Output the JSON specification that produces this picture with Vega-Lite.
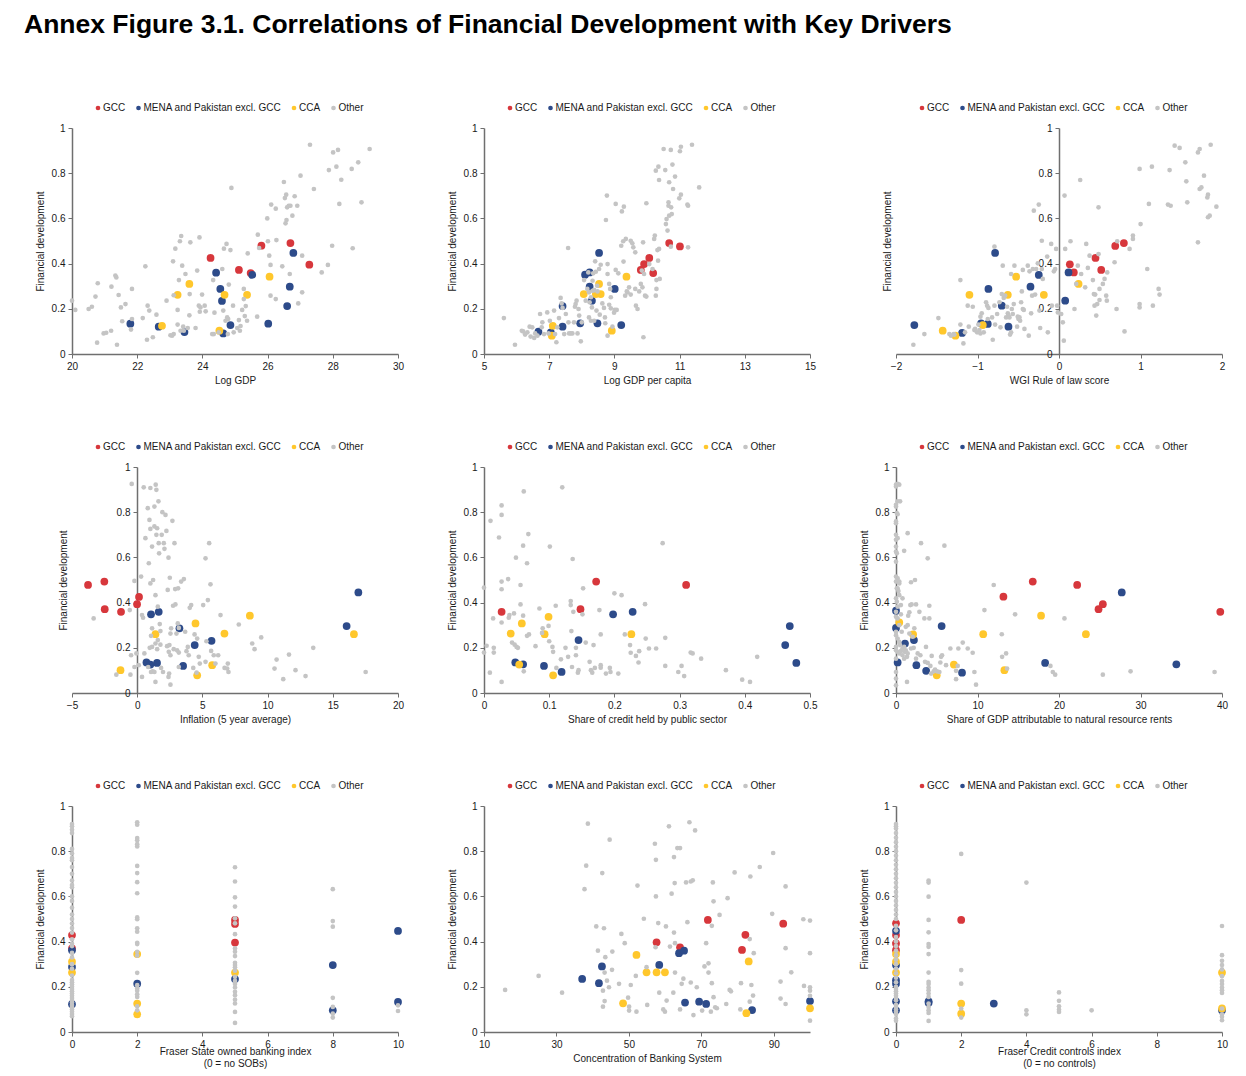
{
"$schema": "https://vega.github.io/schema/vega-lite/v6.json",
"background": "white",
"padding": {"left": 24, "top": 12, "right": 6, "bottom": 4},
"title": {"text": "Annex Figure 3.1. Correlations of Financial Development with Key Drivers", "anchor": "start", "frame": "group", "dx": -48, "font": "Liberation Sans", "fontSize": 26.5, "fontWeight": "bold", "color": "#000000", "offset": 64.5},
"datasets": {
"p1": [
{"x":24.25,"y":0.425,"g":"GCC"},{"x":25.12,"y":0.372,"g":"GCC"},{"x":25.48,"y":0.358,"g":"GCC"},{"x":25.81,"y":0.479,"g":"GCC"},{"x":26.7,"y":0.491,"g":"GCC"},{"x":27.28,"y":0.395,"g":"GCC"},
{"x":21.79,"y":0.134,"g":"MENA and Pakistan excl. GCC"},{"x":22.66,"y":0.121,"g":"MENA and Pakistan excl. GCC"},{"x":23.45,"y":0.097,"g":"MENA and Pakistan excl. GCC"},{"x":24.42,"y":0.36,"g":"MENA and Pakistan excl. GCC"},{"x":24.55,"y":0.288,"g":"MENA and Pakistan excl. GCC"},{"x":24.6,"y":0.235,"g":"MENA and Pakistan excl. GCC"},{"x":24.64,"y":0.091,"g":"MENA and Pakistan excl. GCC"},{"x":24.86,"y":0.128,"g":"MENA and Pakistan excl. GCC"},{"x":25.53,"y":0.35,"g":"MENA and Pakistan excl. GCC"},{"x":26.02,"y":0.134,"g":"MENA and Pakistan excl. GCC"},{"x":26.6,"y":0.212,"g":"MENA and Pakistan excl. GCC"},{"x":26.68,"y":0.298,"g":"MENA and Pakistan excl. GCC"},{"x":26.79,"y":0.447,"g":"MENA and Pakistan excl. GCC"},
{"x":22.76,"y":0.125,"g":"CCA"},{"x":23.24,"y":0.262,"g":"CCA"},{"x":23.6,"y":0.31,"g":"CCA"},{"x":24.52,"y":0.103,"g":"CCA"},{"x":24.68,"y":0.262,"g":"CCA"},{"x":25.37,"y":0.262,"g":"CCA"},{"x":26.06,"y":0.342,"g":"CCA"},
{"x":20.0,"y":0.236,"g":"Other"},{"x":20.1,"y":0.195,"g":"Other"},{"x":20.51,"y":0.199,"g":"Other"},{"x":20.61,"y":0.209,"g":"Other"},{"x":20.72,"y":0.254,"g":"Other"},{"x":20.79,"y":0.313,"g":"Other"},{"x":20.77,"y":0.05,"g":"Other"},{"x":20.97,"y":0.091,"g":"Other"},{"x":21.05,"y":0.094,"g":"Other"},{"x":21.2,"y":0.103,"g":"Other"},{"x":21.21,"y":0.298,"g":"Other"},{"x":21.33,"y":0.347,"g":"Other"},{"x":21.36,"y":0.339,"g":"Other"},{"x":21.43,"y":0.261,"g":"Other"},{"x":21.5,"y":0.206,"g":"Other"},{"x":21.54,"y":0.145,"g":"Other"},{"x":21.84,"y":0.288,"g":"Other"},{"x":21.84,"y":0.155,"g":"Other"},{"x":21.81,"y":0.108,"g":"Other"},{"x":21.64,"y":0.221,"g":"Other"},{"x":21.38,"y":0.041,"g":"Other"},{"x":22.17,"y":0.159,"g":"Other"},{"x":22.25,"y":0.388,"g":"Other"},{"x":22.3,"y":0.063,"g":"Other"},{"x":22.32,"y":0.214,"g":"Other"},{"x":22.37,"y":0.192,"g":"Other"},{"x":22.48,"y":0.074,"g":"Other"},{"x":22.59,"y":0.174,"g":"Other"},{"x":22.9,"y":0.236,"g":"Other"},{"x":23.02,"y":0.083,"g":"Other"},{"x":23.1,"y":0.41,"g":"Other"},{"x":23.12,"y":0.26,"g":"Other"},{"x":23.17,"y":0.466,"g":"Other"},{"x":23.24,"y":0.195,"g":"Other"},{"x":23.24,"y":0.13,"g":"Other"},{"x":23.28,"y":0.327,"g":"Other"},{"x":23.31,"y":0.499,"g":"Other"},{"x":23.35,"y":0.522,"g":"Other"},{"x":23.38,"y":0.391,"g":"Other"},{"x":23.41,"y":0.121,"g":"Other"},{"x":23.48,"y":0.354,"g":"Other"},{"x":23.55,"y":0.115,"g":"Other"},{"x":23.6,"y":0.171,"g":"Other"},{"x":23.61,"y":0.265,"g":"Other"},{"x":23.63,"y":0.494,"g":"Other"},{"x":23.79,"y":0.115,"g":"Other"},{"x":23.84,"y":0.369,"g":"Other"},{"x":23.89,"y":0.214,"g":"Other"},{"x":23.94,"y":0.206,"g":"Other"},{"x":23.92,"y":0.187,"g":"Other"},{"x":23.91,"y":0.516,"g":"Other"},{"x":23.99,"y":0.263,"g":"Other"},{"x":24.07,"y":0.214,"g":"Other"},{"x":24.1,"y":0.189,"g":"Other"},{"x":24.3,"y":0.088,"g":"Other"},{"x":24.33,"y":0.327,"g":"Other"},{"x":24.37,"y":0.183,"g":"Other"},{"x":24.61,"y":0.376,"g":"Other"},{"x":24.64,"y":0.192,"g":"Other"},{"x":24.66,"y":0.466,"g":"Other"},{"x":24.71,"y":0.147,"g":"Other"},{"x":24.74,"y":0.487,"g":"Other"},{"x":24.81,"y":0.307,"g":"Other"},{"x":24.79,"y":0.155,"g":"Other"},{"x":24.86,"y":0.46,"g":"Other"},{"x":24.89,"y":0.735,"g":"Other"},{"x":24.94,"y":0.214,"g":"Other"},{"x":24.96,"y":0.096,"g":"Other"},{"x":25.07,"y":0.115,"g":"Other"},{"x":25.17,"y":0.124,"g":"Other"},{"x":25.22,"y":0.195,"g":"Other"},{"x":25.27,"y":0.288,"g":"Other"},{"x":25.27,"y":0.243,"g":"Other"},{"x":25.3,"y":0.168,"g":"Other"},{"x":25.33,"y":0.212,"g":"Other"},{"x":25.39,"y":0.445,"g":"Other"},{"x":25.68,"y":0.165,"g":"Other"},{"x":25.7,"y":0.528,"g":"Other"},{"x":25.74,"y":0.469,"g":"Other"},{"x":25.99,"y":0.6,"g":"Other"},{"x":26.01,"y":0.499,"g":"Other"},{"x":26.05,"y":0.435,"g":"Other"},{"x":26.09,"y":0.258,"g":"Other"},{"x":26.09,"y":0.394,"g":"Other"},{"x":26.11,"y":0.661,"g":"Other"},{"x":26.25,"y":0.243,"g":"Other"},{"x":26.25,"y":0.643,"g":"Other"},{"x":26.27,"y":0.504,"g":"Other"},{"x":26.45,"y":0.388,"g":"Other"},{"x":26.5,"y":0.761,"g":"Other"},{"x":26.53,"y":0.69,"g":"Other"},{"x":26.57,"y":0.705,"g":"Other"},{"x":26.55,"y":0.578,"g":"Other"},{"x":26.58,"y":0.593,"g":"Other"},{"x":26.6,"y":0.649,"g":"Other"},{"x":26.65,"y":0.656,"g":"Other"},{"x":26.68,"y":0.354,"g":"Other"},{"x":26.7,"y":0.656,"g":"Other"},{"x":26.76,"y":0.612,"g":"Other"},{"x":26.83,"y":0.698,"g":"Other"},{"x":26.91,"y":0.656,"g":"Other"},{"x":26.94,"y":0.224,"g":"Other"},{"x":27.01,"y":0.789,"g":"Other"},{"x":27.06,"y":0.273,"g":"Other"},{"x":27.06,"y":0.435,"g":"Other"},{"x":27.42,"y":0.73,"g":"Other"},{"x":27.66,"y":0.361,"g":"Other"},{"x":27.85,"y":0.394,"g":"Other"},{"x":27.88,"y":0.814,"g":"Other"},{"x":27.98,"y":0.479,"g":"Other"},{"x":28.01,"y":0.892,"g":"Other"},{"x":28.11,"y":0.829,"g":"Other"},{"x":28.16,"y":0.903,"g":"Other"},{"x":28.2,"y":0.664,"g":"Other"},{"x":28.26,"y":0.771,"g":"Other"},{"x":28.58,"y":0.819,"g":"Other"},{"x":28.61,"y":0.468,"g":"Other"},{"x":28.78,"y":0.848,"g":"Other"},{"x":28.88,"y":0.671,"g":"Other"},{"x":29.13,"y":0.907,"g":"Other"},{"x":27.3,"y":0.926,"g":"Other"},{"x":24.76,"y":0.162,"g":"Other"},{"x":24.5,"y":0.096,"g":"Other"},{"x":24.35,"y":0.088,"g":"Other"},{"x":24.78,"y":0.088,"g":"Other"},{"x":23.43,"y":0.103,"g":"Other"},{"x":23.12,"y":0.088,"g":"Other"},{"x":23.07,"y":0.081,"g":"Other"},{"x":23.33,"y":0.103,"g":"Other"},{"x":25.12,"y":0.15,"g":"Other"},{"x":25.15,"y":0.103,"g":"Other"},{"x":25.37,"y":0.147,"g":"Other"}
],
"p2": [
{"x":9.81,"y":0.372,"g":"GCC"},{"x":9.91,"y":0.398,"g":"GCC"},{"x":10.07,"y":0.425,"g":"GCC"},{"x":10.19,"y":0.358,"g":"GCC"},{"x":10.68,"y":0.491,"g":"GCC"},{"x":11.01,"y":0.476,"g":"GCC"},
{"x":6.67,"y":0.099,"g":"MENA and Pakistan excl. GCC"},{"x":7.05,"y":0.096,"g":"MENA and Pakistan excl. GCC"},{"x":7.41,"y":0.212,"g":"MENA and Pakistan excl. GCC"},{"x":7.41,"y":0.121,"g":"MENA and Pakistan excl. GCC"},{"x":7.95,"y":0.136,"g":"MENA and Pakistan excl. GCC"},{"x":8.1,"y":0.351,"g":"MENA and Pakistan excl. GCC"},{"x":8.24,"y":0.361,"g":"MENA and Pakistan excl. GCC"},{"x":8.24,"y":0.298,"g":"MENA and Pakistan excl. GCC"},{"x":8.31,"y":0.236,"g":"MENA and Pakistan excl. GCC"},{"x":8.48,"y":0.136,"g":"MENA and Pakistan excl. GCC"},{"x":8.53,"y":0.447,"g":"MENA and Pakistan excl. GCC"},{"x":9.01,"y":0.288,"g":"MENA and Pakistan excl. GCC"},{"x":9.21,"y":0.128,"g":"MENA and Pakistan excl. GCC"},
{"x":7.11,"y":0.125,"g":"CCA"},{"x":7.08,"y":0.081,"g":"CCA"},{"x":8.06,"y":0.265,"g":"CCA"},{"x":8.43,"y":0.265,"g":"CCA"},{"x":8.53,"y":0.31,"g":"CCA"},{"x":8.58,"y":0.265,"g":"CCA"},{"x":8.92,"y":0.103,"g":"CCA"},{"x":9.37,"y":0.342,"g":"CCA"},
{"x":5.61,"y":0.159,"g":"Other"},{"x":5.95,"y":0.041,"g":"Other"},{"x":6.16,"y":0.103,"g":"Other"},{"x":6.2,"y":0.1,"g":"Other"},{"x":6.26,"y":0.086,"g":"Other"},{"x":6.33,"y":0.096,"g":"Other"},{"x":6.4,"y":0.121,"g":"Other"},{"x":6.48,"y":0.118,"g":"Other"},{"x":6.54,"y":0.071,"g":"Other"},{"x":6.43,"y":0.077,"g":"Other"},{"x":6.57,"y":0.091,"g":"Other"},{"x":6.64,"y":0.081,"g":"Other"},{"x":6.72,"y":0.177,"g":"Other"},{"x":6.77,"y":0.118,"g":"Other"},{"x":6.79,"y":0.14,"g":"Other"},{"x":6.84,"y":0.088,"g":"Other"},{"x":6.94,"y":0.184,"g":"Other"},{"x":6.98,"y":0.091,"g":"Other"},{"x":7.02,"y":0.147,"g":"Other"},{"x":7.15,"y":0.192,"g":"Other"},{"x":7.18,"y":0.088,"g":"Other"},{"x":7.22,"y":0.052,"g":"Other"},{"x":7.25,"y":0.118,"g":"Other"},{"x":7.3,"y":0.159,"g":"Other"},{"x":7.35,"y":0.248,"g":"Other"},{"x":7.38,"y":0.224,"g":"Other"},{"x":7.41,"y":0.204,"g":"Other"},{"x":7.46,"y":0.088,"g":"Other"},{"x":7.51,"y":0.177,"g":"Other"},{"x":7.58,"y":0.469,"g":"Other"},{"x":7.59,"y":0.14,"g":"Other"},{"x":7.61,"y":0.091,"g":"Other"},{"x":7.66,"y":0.091,"g":"Other"},{"x":7.71,"y":0.091,"g":"Other"},{"x":7.76,"y":0.14,"g":"Other"},{"x":7.79,"y":0.209,"g":"Other"},{"x":7.81,"y":0.221,"g":"Other"},{"x":7.84,"y":0.236,"g":"Other"},{"x":7.87,"y":0.091,"g":"Other"},{"x":7.9,"y":0.199,"g":"Other"},{"x":7.92,"y":0.17,"g":"Other"},{"x":7.97,"y":0.056,"g":"Other"},{"x":8.0,"y":0.14,"g":"Other"},{"x":8.07,"y":0.327,"g":"Other"},{"x":8.12,"y":0.236,"g":"Other"},{"x":8.17,"y":0.288,"g":"Other"},{"x":8.2,"y":0.361,"g":"Other"},{"x":8.22,"y":0.162,"g":"Other"},{"x":8.24,"y":0.229,"g":"Other"},{"x":8.28,"y":0.251,"g":"Other"},{"x":8.31,"y":0.206,"g":"Other"},{"x":8.33,"y":0.324,"g":"Other"},{"x":8.35,"y":0.357,"g":"Other"},{"x":8.38,"y":0.283,"g":"Other"},{"x":8.41,"y":0.41,"g":"Other"},{"x":8.43,"y":0.364,"g":"Other"},{"x":8.45,"y":0.192,"g":"Other"},{"x":8.47,"y":0.302,"g":"Other"},{"x":8.48,"y":0.277,"g":"Other"},{"x":8.53,"y":0.376,"g":"Other"},{"x":8.55,"y":0.174,"g":"Other"},{"x":8.58,"y":0.395,"g":"Other"},{"x":8.63,"y":0.224,"g":"Other"},{"x":8.68,"y":0.204,"g":"Other"},{"x":8.71,"y":0.162,"g":"Other"},{"x":8.74,"y":0.593,"g":"Other"},{"x":8.77,"y":0.701,"g":"Other"},{"x":8.79,"y":0.354,"g":"Other"},{"x":8.79,"y":0.398,"g":"Other"},{"x":8.84,"y":0.31,"g":"Other"},{"x":8.87,"y":0.288,"g":"Other"},{"x":8.89,"y":0.202,"g":"Other"},{"x":8.94,"y":0.121,"g":"Other"},{"x":8.99,"y":0.183,"g":"Other"},{"x":9.01,"y":0.195,"g":"Other"},{"x":9.04,"y":0.372,"g":"Other"},{"x":9.04,"y":0.664,"g":"Other"},{"x":9.07,"y":0.195,"g":"Other"},{"x":9.12,"y":0.357,"g":"Other"},{"x":9.21,"y":0.479,"g":"Other"},{"x":9.23,"y":0.631,"g":"Other"},{"x":9.29,"y":0.652,"g":"Other"},{"x":9.27,"y":0.499,"g":"Other"},{"x":9.28,"y":0.409,"g":"Other"},{"x":9.33,"y":0.258,"g":"Other"},{"x":9.35,"y":0.509,"g":"Other"},{"x":9.38,"y":0.277,"g":"Other"},{"x":9.4,"y":0.273,"g":"Other"},{"x":9.45,"y":0.295,"g":"Other"},{"x":9.5,"y":0.501,"g":"Other"},{"x":9.55,"y":0.49,"g":"Other"},{"x":9.58,"y":0.472,"g":"Other"},{"x":9.64,"y":0.45,"g":"Other"},{"x":9.64,"y":0.288,"g":"Other"},{"x":9.66,"y":0.214,"g":"Other"},{"x":9.71,"y":0.199,"g":"Other"},{"x":9.76,"y":0.277,"g":"Other"},{"x":9.81,"y":0.31,"g":"Other"},{"x":9.84,"y":0.369,"g":"Other"},{"x":9.86,"y":0.295,"g":"Other"},{"x":9.88,"y":0.494,"g":"Other"},{"x":9.89,"y":0.074,"g":"Other"},{"x":9.91,"y":0.354,"g":"Other"},{"x":9.94,"y":0.258,"g":"Other"},{"x":9.98,"y":0.254,"g":"Other"},{"x":9.98,"y":0.667,"g":"Other"},{"x":10.07,"y":0.398,"g":"Other"},{"x":10.17,"y":0.376,"g":"Other"},{"x":10.22,"y":0.509,"g":"Other"},{"x":10.24,"y":0.524,"g":"Other"},{"x":10.27,"y":0.811,"g":"Other"},{"x":10.29,"y":0.288,"g":"Other"},{"x":10.35,"y":0.829,"g":"Other"},{"x":10.37,"y":0.77,"g":"Other"},{"x":10.29,"y":0.327,"g":"Other"},{"x":10.34,"y":0.413,"g":"Other"},{"x":10.37,"y":0.465,"g":"Other"},{"x":10.39,"y":0.332,"g":"Other"},{"x":10.56,"y":0.814,"g":"Other"},{"x":10.58,"y":0.575,"g":"Other"},{"x":10.6,"y":0.597,"g":"Other"},{"x":10.63,"y":0.546,"g":"Other"},{"x":10.66,"y":0.671,"g":"Other"},{"x":10.66,"y":0.656,"g":"Other"},{"x":10.68,"y":0.612,"g":"Other"},{"x":10.68,"y":0.76,"g":"Other"},{"x":10.51,"y":0.907,"g":"Other"},{"x":10.73,"y":0.903,"g":"Other"},{"x":11.04,"y":0.917,"g":"Other"},{"x":11.38,"y":0.926,"g":"Other"},{"x":10.74,"y":0.649,"g":"Other"},{"x":10.78,"y":0.838,"g":"Other"},{"x":10.8,"y":0.73,"g":"Other"},{"x":10.86,"y":0.785,"g":"Other"},{"x":10.73,"y":0.475,"g":"Other"},{"x":10.76,"y":0.619,"g":"Other"},{"x":10.99,"y":0.689,"g":"Other"},{"x":11.01,"y":0.897,"g":"Other"},{"x":11.04,"y":0.705,"g":"Other"},{"x":11.24,"y":0.661,"g":"Other"},{"x":11.26,"y":0.656,"g":"Other"},{"x":11.6,"y":0.737,"g":"Other"},{"x":11.26,"y":0.472,"g":"Other"},{"x":10.27,"y":0.258,"g":"Other"},{"x":10.32,"y":0.46,"g":"Other"},{"x":9.5,"y":0.263,"g":"Other"},{"x":8.72,"y":0.136,"g":"Other"},{"x":8.79,"y":0.081,"g":"Other"},{"x":8.84,"y":0.218,"g":"Other"},{"x":8.89,"y":0.251,"g":"Other"},{"x":8.33,"y":0.28,"g":"Other"},{"x":8.22,"y":0.273,"g":"Other"},{"x":8.28,"y":0.147,"g":"Other"},{"x":8.38,"y":0.147,"g":"Other"}
],
"p3": [
{"x":0.133,"y":0.397,"g":"GCC"},{"x":0.182,"y":0.361,"g":"GCC"},{"x":0.448,"y":0.425,"g":"GCC"},{"x":0.518,"y":0.372,"g":"GCC"},{"x":0.69,"y":0.478,"g":"GCC"},{"x":0.796,"y":0.491,"g":"GCC"},
{"x":-1.775,"y":0.128,"g":"MENA and Pakistan excl. GCC"},{"x":-1.189,"y":0.093,"g":"MENA and Pakistan excl. GCC"},{"x":-0.956,"y":0.136,"g":"MENA and Pakistan excl. GCC"},{"x":-0.874,"y":0.133,"g":"MENA and Pakistan excl. GCC"},{"x":-0.866,"y":0.288,"g":"MENA and Pakistan excl. GCC"},{"x":-0.784,"y":0.447,"g":"MENA and Pakistan excl. GCC"},{"x":-0.702,"y":0.214,"g":"MENA and Pakistan excl. GCC"},{"x":-0.62,"y":0.121,"g":"MENA and Pakistan excl. GCC"},{"x":-0.35,"y":0.298,"g":"MENA and Pakistan excl. GCC"},{"x":-0.248,"y":0.35,"g":"MENA and Pakistan excl. GCC"},{"x":0.076,"y":0.236,"g":"MENA and Pakistan excl. GCC"},{"x":0.117,"y":0.361,"g":"MENA and Pakistan excl. GCC"},
{"x":-1.427,"y":0.103,"g":"CCA"},{"x":-1.271,"y":0.081,"g":"CCA"},{"x":-1.099,"y":0.262,"g":"CCA"},{"x":-0.935,"y":0.128,"g":"CCA"},{"x":-0.628,"y":0.262,"g":"CCA"},{"x":-0.526,"y":0.342,"g":"CCA"},{"x":-0.186,"y":0.262,"g":"CCA"},{"x":0.24,"y":0.31,"g":"CCA"},
{"x":-1.787,"y":0.041,"g":"Other"},{"x":-1.652,"y":0.088,"g":"Other"},{"x":-1.48,"y":0.159,"g":"Other"},{"x":-1.345,"y":0.088,"g":"Other"},{"x":-1.325,"y":0.081,"g":"Other"},{"x":-1.292,"y":0.088,"g":"Other"},{"x":-1.284,"y":0.086,"g":"Other"},{"x":-1.21,"y":0.327,"g":"Other"},{"x":-1.21,"y":0.13,"g":"Other"},{"x":-1.173,"y":0.047,"g":"Other"},{"x":-1.153,"y":0.096,"g":"Other"},{"x":-1.12,"y":0.214,"g":"Other"},{"x":-1.107,"y":0.121,"g":"Other"},{"x":-1.058,"y":0.209,"g":"Other"},{"x":-1.038,"y":0.106,"g":"Other"},{"x":-1.03,"y":0.111,"g":"Other"},{"x":-1.005,"y":0.096,"g":"Other"},{"x":-0.989,"y":0.13,"g":"Other"},{"x":-0.977,"y":0.106,"g":"Other"},{"x":-0.964,"y":0.091,"g":"Other"},{"x":-0.964,"y":0.165,"g":"Other"},{"x":-0.948,"y":0.18,"g":"Other"},{"x":-0.923,"y":0.096,"g":"Other"},{"x":-0.895,"y":0.229,"g":"Other"},{"x":-0.882,"y":0.214,"g":"Other"},{"x":-0.874,"y":0.155,"g":"Other"},{"x":-0.866,"y":0.204,"g":"Other"},{"x":-0.821,"y":0.162,"g":"Other"},{"x":-0.813,"y":0.063,"g":"Other"},{"x":-0.792,"y":0.475,"g":"Other"},{"x":-0.792,"y":0.214,"g":"Other"},{"x":-0.784,"y":0.13,"g":"Other"},{"x":-0.759,"y":0.177,"g":"Other"},{"x":-0.731,"y":0.229,"g":"Other"},{"x":-0.718,"y":0.118,"g":"Other"},{"x":-0.702,"y":0.265,"g":"Other"},{"x":-0.69,"y":0.391,"g":"Other"},{"x":-0.678,"y":0.248,"g":"Other"},{"x":-0.661,"y":0.258,"g":"Other"},{"x":-0.649,"y":0.162,"g":"Other"},{"x":-0.637,"y":0.209,"g":"Other"},{"x":-0.628,"y":0.18,"g":"Other"},{"x":-0.62,"y":0.17,"g":"Other"},{"x":-0.608,"y":0.162,"g":"Other"},{"x":-0.6,"y":0.086,"g":"Other"},{"x":-0.588,"y":0.354,"g":"Other"},{"x":-0.588,"y":0.096,"g":"Other"},{"x":-0.579,"y":0.199,"g":"Other"},{"x":-0.567,"y":0.177,"g":"Other"},{"x":-0.555,"y":0.221,"g":"Other"},{"x":-0.547,"y":0.391,"g":"Other"},{"x":-0.514,"y":0.121,"g":"Other"},{"x":-0.506,"y":0.165,"g":"Other"},{"x":-0.497,"y":0.155,"g":"Other"},{"x":-0.485,"y":0.162,"g":"Other"},{"x":-0.477,"y":0.147,"g":"Other"},{"x":-0.465,"y":0.229,"g":"Other"},{"x":-0.456,"y":0.277,"g":"Other"},{"x":-0.444,"y":0.199,"g":"Other"},{"x":-0.444,"y":0.372,"g":"Other"},{"x":-0.432,"y":0.195,"g":"Other"},{"x":-0.424,"y":0.111,"g":"Other"},{"x":-0.383,"y":0.391,"g":"Other"},{"x":-0.371,"y":0.081,"g":"Other"},{"x":-0.362,"y":0.366,"g":"Other"},{"x":-0.342,"y":0.18,"g":"Other"},{"x":-0.33,"y":0.258,"g":"Other"},{"x":-0.321,"y":0.376,"g":"Other"},{"x":-0.309,"y":0.634,"g":"Other"},{"x":-0.293,"y":0.263,"g":"Other"},{"x":-0.28,"y":0.376,"g":"Other"},{"x":-0.26,"y":0.401,"g":"Other"},{"x":-0.248,"y":0.661,"g":"Other"},{"x":-0.24,"y":0.192,"g":"Other"},{"x":-0.231,"y":0.115,"g":"Other"},{"x":-0.211,"y":0.501,"g":"Other"},{"x":-0.211,"y":0.376,"g":"Other"},{"x":-0.199,"y":0.332,"g":"Other"},{"x":-0.145,"y":0.431,"g":"Other"},{"x":-0.137,"y":0.096,"g":"Other"},{"x":-0.096,"y":0.487,"g":"Other"},{"x":-0.088,"y":0.214,"g":"Other"},{"x":-0.063,"y":0.366,"g":"Other"},{"x":-0.047,"y":0.376,"g":"Other"},{"x":-0.035,"y":0.465,"g":"Other"},{"x":-0.023,"y":0.214,"g":"Other"},{"x":-0.014,"y":0.184,"g":"Other"},{"x":0.027,"y":0.177,"g":"Other"},{"x":0.047,"y":0.14,"g":"Other"},{"x":0.059,"y":0.059,"g":"Other"},{"x":0.068,"y":0.701,"g":"Other"},{"x":0.076,"y":0.465,"g":"Other"},{"x":0.141,"y":0.499,"g":"Other"},{"x":0.19,"y":0.199,"g":"Other"},{"x":0.211,"y":0.31,"g":"Other"},{"x":0.231,"y":0.391,"g":"Other"},{"x":0.26,"y":0.77,"g":"Other"},{"x":0.272,"y":0.354,"g":"Other"},{"x":0.321,"y":0.295,"g":"Other"},{"x":0.334,"y":0.487,"g":"Other"},{"x":0.354,"y":0.381,"g":"Other"},{"x":0.375,"y":0.435,"g":"Other"},{"x":0.416,"y":0.327,"g":"Other"},{"x":0.428,"y":0.265,"g":"Other"},{"x":0.436,"y":0.214,"g":"Other"},{"x":0.444,"y":0.263,"g":"Other"},{"x":0.457,"y":0.17,"g":"Other"},{"x":0.469,"y":0.221,"g":"Other"},{"x":0.485,"y":0.442,"g":"Other"},{"x":0.497,"y":0.288,"g":"Other"},{"x":0.485,"y":0.649,"g":"Other"},{"x":0.497,"y":0.239,"g":"Other"},{"x":0.538,"y":0.31,"g":"Other"},{"x":0.559,"y":0.332,"g":"Other"},{"x":0.592,"y":0.361,"g":"Other"},{"x":0.579,"y":0.258,"g":"Other"},{"x":0.587,"y":0.236,"g":"Other"},{"x":0.682,"y":0.406,"g":"Other"},{"x":0.706,"y":0.199,"g":"Other"},{"x":0.714,"y":0.499,"g":"Other"},{"x":0.804,"y":0.1,"g":"Other"},{"x":0.866,"y":0.465,"g":"Other"},{"x":0.907,"y":0.524,"g":"Other"},{"x":0.907,"y":0.509,"g":"Other"},{"x":0.989,"y":0.221,"g":"Other"},{"x":0.989,"y":0.206,"g":"Other"},{"x":0.989,"y":0.819,"g":"Other"},{"x":1.001,"y":0.575,"g":"Other"},{"x":1.083,"y":0.376,"g":"Other"},{"x":1.103,"y":0.664,"g":"Other"},{"x":1.14,"y":0.829,"g":"Other"},{"x":1.152,"y":0.214,"g":"Other"},{"x":1.222,"y":0.288,"g":"Other"},{"x":1.234,"y":0.263,"g":"Other"},{"x":1.337,"y":0.661,"g":"Other"},{"x":1.37,"y":0.656,"g":"Other"},{"x":1.357,"y":0.814,"g":"Other"},{"x":1.419,"y":0.922,"g":"Other"},{"x":1.48,"y":0.912,"g":"Other"},{"x":1.55,"y":0.848,"g":"Other"},{"x":1.562,"y":0.764,"g":"Other"},{"x":1.574,"y":0.671,"g":"Other"},{"x":1.705,"y":0.494,"g":"Other"},{"x":1.705,"y":0.892,"g":"Other"},{"x":1.726,"y":0.907,"g":"Other"},{"x":1.726,"y":0.73,"g":"Other"},{"x":1.747,"y":0.737,"g":"Other"},{"x":1.779,"y":0.789,"g":"Other"},{"x":1.82,"y":0.693,"g":"Other"},{"x":1.828,"y":0.705,"g":"Other"},{"x":1.828,"y":0.605,"g":"Other"},{"x":1.849,"y":0.612,"g":"Other"},{"x":1.861,"y":0.926,"g":"Other"},{"x":1.931,"y":0.652,"g":"Other"}
],
"p4": [
{"x":-3.77,"y":0.478,"g":"GCC"},{"x":-2.52,"y":0.493,"g":"GCC"},{"x":-2.49,"y":0.371,"g":"GCC"},{"x":-1.24,"y":0.359,"g":"GCC"},{"x":-0.01,"y":0.393,"g":"GCC"},{"x":0.14,"y":0.425,"g":"GCC"},
{"x":0.71,"y":0.135,"g":"MENA and Pakistan excl. GCC"},{"x":1.01,"y":0.126,"g":"MENA and Pakistan excl. GCC"},{"x":1.06,"y":0.348,"g":"MENA and Pakistan excl. GCC"},{"x":1.52,"y":0.133,"g":"MENA and Pakistan excl. GCC"},{"x":1.65,"y":0.359,"g":"MENA and Pakistan excl. GCC"},{"x":3.24,"y":0.286,"g":"MENA and Pakistan excl. GCC"},{"x":3.52,"y":0.12,"g":"MENA and Pakistan excl. GCC"},{"x":4.41,"y":0.212,"g":"MENA and Pakistan excl. GCC"},{"x":5.7,"y":0.231,"g":"MENA and Pakistan excl. GCC"},{"x":16.06,"y":0.296,"g":"MENA and Pakistan excl. GCC"},{"x":16.96,"y":0.445,"g":"MENA and Pakistan excl. GCC"},
{"x":-1.28,"y":0.101,"g":"CCA"},{"x":1.4,"y":0.26,"g":"CCA"},{"x":4.47,"y":0.308,"g":"CCA"},{"x":4.6,"y":0.078,"g":"CCA"},{"x":5.75,"y":0.123,"g":"CCA"},{"x":6.69,"y":0.263,"g":"CCA"},{"x":8.64,"y":0.342,"g":"CCA"},{"x":16.62,"y":0.26,"g":"CCA"},
{"x":-3.34,"y":0.33,"g":"Other"},{"x":-1.6,"y":0.081,"g":"Other"},{"x":-0.52,"y":0.081,"g":"Other"},{"x":-0.57,"y":0.367,"g":"Other"},{"x":-0.47,"y":0.167,"g":"Other"},{"x":-0.42,"y":0.925,"g":"Other"},{"x":-0.21,"y":0.496,"g":"Other"},{"x":-0.21,"y":0.115,"g":"Other"},{"x":-0.06,"y":0.175,"g":"Other"},{"x":0.12,"y":0.123,"g":"Other"},{"x":0.3,"y":0.515,"g":"Other"},{"x":0.37,"y":0.345,"g":"Other"},{"x":0.37,"y":0.071,"g":"Other"},{"x":0.45,"y":0.333,"g":"Other"},{"x":0.5,"y":0.91,"g":"Other"},{"x":0.55,"y":0.175,"g":"Other"},{"x":0.63,"y":0.685,"g":"Other"},{"x":0.81,"y":0.818,"g":"Other"},{"x":0.84,"y":0.115,"g":"Other"},{"x":0.89,"y":0.574,"g":"Other"},{"x":0.94,"y":0.766,"g":"Other"},{"x":0.96,"y":0.2,"g":"Other"},{"x":1.01,"y":0.907,"g":"Other"},{"x":1.01,"y":0.726,"g":"Other"},{"x":1.01,"y":0.485,"g":"Other"},{"x":1.06,"y":0.093,"g":"Other"},{"x":1.06,"y":0.253,"g":"Other"},{"x":1.14,"y":0.286,"g":"Other"},{"x":1.14,"y":0.204,"g":"Other"},{"x":1.14,"y":0.648,"g":"Other"},{"x":1.19,"y":0.096,"g":"Other"},{"x":1.22,"y":0.5,"g":"Other"},{"x":1.32,"y":0.737,"g":"Other"},{"x":1.32,"y":0.825,"g":"Other"},{"x":1.32,"y":0.093,"g":"Other"},{"x":1.4,"y":0.433,"g":"Other"},{"x":1.4,"y":0.219,"g":"Other"},{"x":1.4,"y":0.049,"g":"Other"},{"x":1.42,"y":0.922,"g":"Other"},{"x":1.47,"y":0.7,"g":"Other"},{"x":1.47,"y":0.899,"g":"Other"},{"x":1.53,"y":0.194,"g":"Other"},{"x":1.53,"y":0.729,"g":"Other"},{"x":1.58,"y":0.382,"g":"Other"},{"x":1.58,"y":0.234,"g":"Other"},{"x":1.63,"y":0.848,"g":"Other"},{"x":1.65,"y":0.663,"g":"Other"},{"x":1.68,"y":0.618,"g":"Other"},{"x":1.73,"y":0.305,"g":"Other"},{"x":1.78,"y":0.274,"g":"Other"},{"x":1.78,"y":0.214,"g":"Other"},{"x":1.83,"y":0.111,"g":"Other"},{"x":1.88,"y":0.7,"g":"Other"},{"x":1.93,"y":0.8,"g":"Other"},{"x":1.98,"y":0.093,"g":"Other"},{"x":2.04,"y":0.663,"g":"Other"},{"x":2.09,"y":0.638,"g":"Other"},{"x":2.17,"y":0.788,"g":"Other"},{"x":2.24,"y":0.717,"g":"Other"},{"x":2.29,"y":0.207,"g":"Other"},{"x":2.34,"y":0.456,"g":"Other"},{"x":2.4,"y":0.599,"g":"Other"},{"x":2.42,"y":0.182,"g":"Other"},{"x":2.47,"y":0.212,"g":"Other"},{"x":2.5,"y":0.51,"g":"Other"},{"x":2.55,"y":0.167,"g":"Other"},{"x":2.4,"y":0.071,"g":"Other"},{"x":2.45,"y":0.086,"g":"Other"},{"x":2.55,"y":0.037,"g":"Other"},{"x":2.55,"y":0.263,"g":"Other"},{"x":2.6,"y":0.286,"g":"Other"},{"x":2.7,"y":0.762,"g":"Other"},{"x":2.75,"y":0.386,"g":"Other"},{"x":2.8,"y":0.194,"g":"Other"},{"x":2.86,"y":0.663,"g":"Other"},{"x":2.91,"y":0.46,"g":"Other"},{"x":2.93,"y":0.392,"g":"Other"},{"x":3.01,"y":0.263,"g":"Other"},{"x":3.06,"y":0.189,"g":"Other"},{"x":3.11,"y":0.308,"g":"Other"},{"x":3.14,"y":0.463,"g":"Other"},{"x":3.19,"y":0.179,"g":"Other"},{"x":3.19,"y":0.115,"g":"Other"},{"x":3.19,"y":0.288,"g":"Other"},{"x":3.37,"y":0.493,"g":"Other"},{"x":3.58,"y":0.504,"g":"Other"},{"x":3.68,"y":0.271,"g":"Other"},{"x":3.78,"y":0.185,"g":"Other"},{"x":3.88,"y":0.204,"g":"Other"},{"x":3.95,"y":0.167,"g":"Other"},{"x":4.03,"y":0.377,"g":"Other"},{"x":4.14,"y":0.389,"g":"Other"},{"x":4.3,"y":0.111,"g":"Other"},{"x":4.4,"y":0.259,"g":"Other"},{"x":4.55,"y":0.09,"g":"Other"},{"x":4.6,"y":0.241,"g":"Other"},{"x":4.72,"y":0.16,"g":"Other"},{"x":4.8,"y":0.13,"g":"Other"},{"x":5.06,"y":0.389,"g":"Other"},{"x":5.24,"y":0.138,"g":"Other"},{"x":5.31,"y":0.229,"g":"Other"},{"x":5.24,"y":0.596,"g":"Other"},{"x":5.52,"y":0.663,"g":"Other"},{"x":5.42,"y":0.411,"g":"Other"},{"x":5.62,"y":0.481,"g":"Other"},{"x":5.67,"y":0.186,"g":"Other"},{"x":5.87,"y":0.167,"g":"Other"},{"x":6.0,"y":0.13,"g":"Other"},{"x":6.21,"y":0.167,"g":"Other"},{"x":6.39,"y":0.345,"g":"Other"},{"x":6.7,"y":0.111,"g":"Other"},{"x":6.9,"y":0.108,"g":"Other"},{"x":6.95,"y":0.13,"g":"Other"},{"x":7.0,"y":0.093,"g":"Other"},{"x":7.79,"y":0.303,"g":"Other"},{"x":8.82,"y":0.219,"g":"Other"},{"x":9.0,"y":0.194,"g":"Other"},{"x":9.51,"y":0.246,"g":"Other"},{"x":10.53,"y":0.108,"g":"Other"},{"x":10.69,"y":0.148,"g":"Other"},{"x":11.2,"y":0.061,"g":"Other"},{"x":11.64,"y":0.17,"g":"Other"},{"x":12.14,"y":0.101,"g":"Other"},{"x":12.91,"y":0.075,"g":"Other"},{"x":13.5,"y":0.2,"g":"Other"},{"x":17.52,"y":0.093,"g":"Other"}
],
"p5": [
{"x":0.027,"y":0.359,"g":"GCC"},{"x":0.148,"y":0.371,"g":"GCC"},{"x":0.172,"y":0.493,"g":"GCC"},{"x":0.31,"y":0.478,"g":"GCC"},
{"x":0.048,"y":0.135,"g":"MENA and Pakistan excl. GCC"},{"x":0.06,"y":0.127,"g":"MENA and Pakistan excl. GCC"},{"x":0.092,"y":0.12,"g":"MENA and Pakistan excl. GCC"},{"x":0.119,"y":0.093,"g":"MENA and Pakistan excl. GCC"},{"x":0.145,"y":0.234,"g":"MENA and Pakistan excl. GCC"},{"x":0.198,"y":0.348,"g":"MENA and Pakistan excl. GCC"},{"x":0.228,"y":0.359,"g":"MENA and Pakistan excl. GCC"},{"x":0.462,"y":0.212,"g":"MENA and Pakistan excl. GCC"},{"x":0.469,"y":0.296,"g":"MENA and Pakistan excl. GCC"},{"x":0.479,"y":0.133,"g":"MENA and Pakistan excl. GCC"},
{"x":0.041,"y":0.263,"g":"CCA"},{"x":0.054,"y":0.126,"g":"CCA"},{"x":0.058,"y":0.308,"g":"CCA"},{"x":0.093,"y":0.26,"g":"CCA"},{"x":0.099,"y":0.337,"g":"CCA"},{"x":0.106,"y":0.078,"g":"CCA"},{"x":0.226,"y":0.26,"g":"CCA"},
{"x":0.0,"y":0.179,"g":"Other"},{"x":0.0,"y":0.466,"g":"Other"},{"x":0.004,"y":0.209,"g":"Other"},{"x":0.009,"y":0.09,"g":"Other"},{"x":0.01,"y":0.762,"g":"Other"},{"x":0.014,"y":0.33,"g":"Other"},{"x":0.015,"y":0.179,"g":"Other"},{"x":0.015,"y":0.2,"g":"Other"},{"x":0.023,"y":0.688,"g":"Other"},{"x":0.027,"y":0.312,"g":"Other"},{"x":0.027,"y":0.493,"g":"Other"},{"x":0.027,"y":0.459,"g":"Other"},{"x":0.027,"y":0.049,"g":"Other"},{"x":0.027,"y":0.83,"g":"Other"},{"x":0.027,"y":0.788,"g":"Other"},{"x":0.037,"y":0.504,"g":"Other"},{"x":0.039,"y":0.345,"g":"Other"},{"x":0.038,"y":0.333,"g":"Other"},{"x":0.043,"y":0.223,"g":"Other"},{"x":0.046,"y":0.352,"g":"Other"},{"x":0.047,"y":0.214,"g":"Other"},{"x":0.049,"y":0.599,"g":"Other"},{"x":0.05,"y":0.204,"g":"Other"},{"x":0.052,"y":0.2,"g":"Other"},{"x":0.056,"y":0.392,"g":"Other"},{"x":0.056,"y":0.478,"g":"Other"},{"x":0.06,"y":0.342,"g":"Other"},{"x":0.06,"y":0.652,"g":"Other"},{"x":0.061,"y":0.096,"g":"Other"},{"x":0.061,"y":0.892,"g":"Other"},{"x":0.066,"y":0.574,"g":"Other"},{"x":0.066,"y":0.253,"g":"Other"},{"x":0.068,"y":0.703,"g":"Other"},{"x":0.069,"y":0.259,"g":"Other"},{"x":0.079,"y":0.207,"g":"Other"},{"x":0.085,"y":0.374,"g":"Other"},{"x":0.089,"y":0.266,"g":"Other"},{"x":0.09,"y":0.286,"g":"Other"},{"x":0.099,"y":0.297,"g":"Other"},{"x":0.1,"y":0.229,"g":"Other"},{"x":0.101,"y":0.648,"g":"Other"},{"x":0.105,"y":0.204,"g":"Other"},{"x":0.106,"y":0.182,"g":"Other"},{"x":0.11,"y":0.386,"g":"Other"},{"x":0.111,"y":0.111,"g":"Other"},{"x":0.118,"y":0.149,"g":"Other"},{"x":0.12,"y":0.91,"g":"Other"},{"x":0.125,"y":0.2,"g":"Other"},{"x":0.129,"y":0.16,"g":"Other"},{"x":0.133,"y":0.407,"g":"Other"},{"x":0.133,"y":0.389,"g":"Other"},{"x":0.134,"y":0.274,"g":"Other"},{"x":0.135,"y":0.115,"g":"Other"},{"x":0.137,"y":0.359,"g":"Other"},{"x":0.136,"y":0.593,"g":"Other"},{"x":0.141,"y":0.2,"g":"Other"},{"x":0.141,"y":0.167,"g":"Other"},{"x":0.144,"y":0.09,"g":"Other"},{"x":0.145,"y":0.101,"g":"Other"},{"x":0.152,"y":0.463,"g":"Other"},{"x":0.151,"y":0.348,"g":"Other"},{"x":0.156,"y":0.223,"g":"Other"},{"x":0.162,"y":0.138,"g":"Other"},{"x":0.164,"y":0.101,"g":"Other"},{"x":0.166,"y":0.09,"g":"Other"},{"x":0.168,"y":0.212,"g":"Other"},{"x":0.17,"y":0.111,"g":"Other"},{"x":0.177,"y":0.367,"g":"Other"},{"x":0.179,"y":0.112,"g":"Other"},{"x":0.179,"y":0.259,"g":"Other"},{"x":0.179,"y":0.123,"g":"Other"},{"x":0.187,"y":0.086,"g":"Other"},{"x":0.193,"y":0.111,"g":"Other"},{"x":0.194,"y":0.093,"g":"Other"},{"x":0.2,"y":0.441,"g":"Other"},{"x":0.206,"y":0.086,"g":"Other"},{"x":0.211,"y":0.433,"g":"Other"},{"x":0.216,"y":0.259,"g":"Other"},{"x":0.224,"y":0.212,"g":"Other"},{"x":0.225,"y":0.178,"g":"Other"},{"x":0.233,"y":0.164,"g":"Other"},{"x":0.237,"y":0.135,"g":"Other"},{"x":0.238,"y":0.185,"g":"Other"},{"x":0.247,"y":0.393,"g":"Other"},{"x":0.248,"y":0.241,"g":"Other"},{"x":0.253,"y":0.197,"g":"Other"},{"x":0.264,"y":0.197,"g":"Other"},{"x":0.274,"y":0.663,"g":"Other"},{"x":0.278,"y":0.244,"g":"Other"},{"x":0.278,"y":0.12,"g":"Other"},{"x":0.298,"y":0.093,"g":"Other"},{"x":0.303,"y":0.12,"g":"Other"},{"x":0.307,"y":0.075,"g":"Other"},{"x":0.317,"y":0.179,"g":"Other"},{"x":0.32,"y":0.175,"g":"Other"},{"x":0.333,"y":0.152,"g":"Other"},{"x":0.371,"y":0.101,"g":"Other"},{"x":0.396,"y":0.059,"g":"Other"},{"x":0.408,"y":0.049,"g":"Other"},{"x":0.419,"y":0.16,"g":"Other"}
],
"p6": [
{"x":13.18,"y":0.426,"g":"GCC"},{"x":16.78,"y":0.493,"g":"GCC"},{"x":22.23,"y":0.478,"g":"GCC"},{"x":24.85,"y":0.371,"g":"GCC"},{"x":25.38,"y":0.393,"g":"GCC"},{"x":39.79,"y":0.359,"g":"GCC"},
{"x":0.0,"y":0.364,"g":"MENA and Pakistan excl. GCC"},{"x":0.0,"y":0.288,"g":"MENA and Pakistan excl. GCC"},{"x":0.2,"y":0.135,"g":"MENA and Pakistan excl. GCC"},{"x":1.1,"y":0.219,"g":"MENA and Pakistan excl. GCC"},{"x":2.2,"y":0.234,"g":"MENA and Pakistan excl. GCC"},{"x":2.5,"y":0.123,"g":"MENA and Pakistan excl. GCC"},{"x":3.7,"y":0.098,"g":"MENA and Pakistan excl. GCC"},{"x":5.6,"y":0.296,"g":"MENA and Pakistan excl. GCC"},{"x":8.1,"y":0.09,"g":"MENA and Pakistan excl. GCC"},{"x":18.3,"y":0.133,"g":"MENA and Pakistan excl. GCC"},{"x":27.7,"y":0.445,"g":"MENA and Pakistan excl. GCC"},{"x":34.4,"y":0.127,"g":"MENA and Pakistan excl. GCC"},
{"x":0.4,"y":0.312,"g":"CCA"},{"x":2.1,"y":0.259,"g":"CCA"},{"x":5.0,"y":0.078,"g":"CCA"},{"x":7.1,"y":0.126,"g":"CCA"},{"x":10.7,"y":0.26,"g":"CCA"},{"x":13.3,"y":0.101,"g":"CCA"},{"x":17.8,"y":0.342,"g":"CCA"},{"x":23.3,"y":0.26,"g":"CCA"},
{"x":0.0,"y":0.922,"g":"Other"},{"x":0.0,"y":0.914,"g":"Other"},{"x":0.2,"y":0.925,"g":"Other"},{"x":0.4,"y":0.922,"g":"Other"},{"x":0.0,"y":0.825,"g":"Other"},{"x":0.0,"y":0.833,"g":"Other"},{"x":0.2,"y":0.848,"g":"Other"},{"x":0.1,"y":0.796,"g":"Other"},{"x":0.0,"y":0.759,"g":"Other"},{"x":0.0,"y":0.751,"g":"Other"},{"x":0.2,"y":0.791,"g":"Other"},{"x":0.0,"y":0.7,"g":"Other"},{"x":0.0,"y":0.678,"g":"Other"},{"x":0.2,"y":0.685,"g":"Other"},{"x":0.0,"y":0.648,"g":"Other"},{"x":0.0,"y":0.626,"g":"Other"},{"x":0.1,"y":0.618,"g":"Other"},{"x":0.0,"y":0.581,"g":"Other"},{"x":0.0,"y":0.515,"g":"Other"},{"x":0.2,"y":0.507,"g":"Other"},{"x":0.0,"y":0.493,"g":"Other"},{"x":0.1,"y":0.463,"g":"Other"},{"x":0.3,"y":0.451,"g":"Other"},{"x":0.0,"y":0.419,"g":"Other"},{"x":0.1,"y":0.404,"g":"Other"},{"x":0.2,"y":0.382,"g":"Other"},{"x":0.4,"y":0.493,"g":"Other"},{"x":0.4,"y":0.485,"g":"Other"},{"x":0.0,"y":0.359,"g":"Other"},{"x":0.0,"y":0.337,"g":"Other"},{"x":0.2,"y":0.33,"g":"Other"},{"x":0.4,"y":0.3,"g":"Other"},{"x":0.0,"y":0.271,"g":"Other"},{"x":0.0,"y":0.256,"g":"Other"},{"x":0.2,"y":0.241,"g":"Other"},{"x":0.4,"y":0.226,"g":"Other"},{"x":0.5,"y":0.212,"g":"Other"},{"x":0.0,"y":0.204,"g":"Other"},{"x":0.0,"y":0.189,"g":"Other"},{"x":0.2,"y":0.182,"g":"Other"},{"x":0.4,"y":0.175,"g":"Other"},{"x":0.6,"y":0.185,"g":"Other"},{"x":0.8,"y":0.197,"g":"Other"},{"x":1.0,"y":0.204,"g":"Other"},{"x":1.2,"y":0.189,"g":"Other"},{"x":1.43,"y":0.175,"g":"Other"},{"x":0.8,"y":0.167,"g":"Other"},{"x":0.0,"y":0.152,"g":"Other"},{"x":0.0,"y":0.093,"g":"Other"},{"x":0.0,"y":0.064,"g":"Other"},{"x":0.0,"y":0.034,"g":"Other"},{"x":0.2,"y":0.463,"g":"Other"},{"x":0.4,"y":0.433,"g":"Other"},{"x":0.5,"y":0.848,"g":"Other"},{"x":0.6,"y":0.389,"g":"Other"},{"x":0.6,"y":0.348,"g":"Other"},{"x":0.7,"y":0.271,"g":"Other"},{"x":0.8,"y":0.419,"g":"Other"},{"x":1.0,"y":0.152,"g":"Other"},{"x":1.1,"y":0.182,"g":"Other"},{"x":1.2,"y":0.293,"g":"Other"},{"x":1.35,"y":0.16,"g":"Other"},{"x":1.43,"y":0.3,"g":"Other"},{"x":1.5,"y":0.342,"g":"Other"},{"x":1.0,"y":0.629,"g":"Other"},{"x":1.35,"y":0.049,"g":"Other"},{"x":1.43,"y":0.707,"g":"Other"},{"x":1.64,"y":0.357,"g":"Other"},{"x":1.64,"y":0.263,"g":"Other"},{"x":1.76,"y":0.389,"g":"Other"},{"x":1.84,"y":0.49,"g":"Other"},{"x":1.84,"y":0.197,"g":"Other"},{"x":1.92,"y":0.392,"g":"Other"},{"x":2.05,"y":0.249,"g":"Other"},{"x":2.17,"y":0.2,"g":"Other"},{"x":2.25,"y":0.286,"g":"Other"},{"x":2.33,"y":0.5,"g":"Other"},{"x":2.46,"y":0.152,"g":"Other"},{"x":2.46,"y":0.392,"g":"Other"},{"x":2.66,"y":0.175,"g":"Other"},{"x":2.87,"y":0.359,"g":"Other"},{"x":2.99,"y":0.167,"g":"Other"},{"x":3.07,"y":0.663,"g":"Other"},{"x":3.48,"y":0.33,"g":"Other"},{"x":3.56,"y":0.138,"g":"Other"},{"x":3.68,"y":0.204,"g":"Other"},{"x":3.89,"y":0.133,"g":"Other"},{"x":3.89,"y":0.596,"g":"Other"},{"x":4.09,"y":0.386,"g":"Other"},{"x":4.09,"y":0.33,"g":"Other"},{"x":4.22,"y":0.12,"g":"Other"},{"x":4.3,"y":0.086,"g":"Other"},{"x":4.38,"y":0.164,"g":"Other"},{"x":4.63,"y":0.096,"g":"Other"},{"x":4.79,"y":0.104,"g":"Other"},{"x":5.03,"y":0.096,"g":"Other"},{"x":5.32,"y":0.093,"g":"Other"},{"x":5.44,"y":0.135,"g":"Other"},{"x":5.53,"y":0.16,"g":"Other"},{"x":5.65,"y":0.167,"g":"Other"},{"x":5.94,"y":0.652,"g":"Other"},{"x":6.14,"y":0.123,"g":"Other"},{"x":6.67,"y":0.197,"g":"Other"},{"x":7.37,"y":0.098,"g":"Other"},{"x":7.37,"y":0.061,"g":"Other"},{"x":7.57,"y":0.12,"g":"Other"},{"x":7.65,"y":0.197,"g":"Other"},{"x":8.19,"y":0.223,"g":"Other"},{"x":8.8,"y":0.197,"g":"Other"},{"x":9.41,"y":0.178,"g":"Other"},{"x":9.62,"y":0.093,"g":"Other"},{"x":9.82,"y":0.037,"g":"Other"},{"x":10.85,"y":0.367,"g":"Other"},{"x":11.99,"y":0.478,"g":"Other"},{"x":12.98,"y":0.26,"g":"Other"},{"x":13.02,"y":0.16,"g":"Other"},{"x":13.51,"y":0.175,"g":"Other"},{"x":13.63,"y":0.108,"g":"Other"},{"x":14.61,"y":0.348,"g":"Other"},{"x":18.95,"y":0.12,"g":"Other"},{"x":19.24,"y":0.093,"g":"Other"},{"x":19.53,"y":0.081,"g":"Other"},{"x":20.67,"y":0.33,"g":"Other"},{"x":25.38,"y":0.081,"g":"Other"},{"x":28.78,"y":0.096,"g":"Other"},{"x":39.09,"y":0.093,"g":"Other"}
],
"p7": [
{"x":0,"y":0.429,"g":"GCC"},{"x":0,"y":0.37,"g":"GCC"},{"x":5,"y":0.496,"g":"GCC"},{"x":5,"y":0.478,"g":"GCC"},{"x":5,"y":0.396,"g":"GCC"},
{"x":0,"y":0.362,"g":"MENA and Pakistan excl. GCC"},{"x":0,"y":0.288,"g":"MENA and Pakistan excl. GCC"},{"x":0,"y":0.123,"g":"MENA and Pakistan excl. GCC"},{"x":2,"y":0.214,"g":"MENA and Pakistan excl. GCC"},{"x":5,"y":0.234,"g":"MENA and Pakistan excl. GCC"},{"x":8,"y":0.296,"g":"MENA and Pakistan excl. GCC"},{"x":8,"y":0.096,"g":"MENA and Pakistan excl. GCC"},{"x":10,"y":0.447,"g":"MENA and Pakistan excl. GCC"},{"x":10,"y":0.133,"g":"MENA and Pakistan excl. GCC"},
{"x":0,"y":0.311,"g":"CCA"},{"x":0,"y":0.263,"g":"CCA"},{"x":2,"y":0.345,"g":"CCA"},{"x":2,"y":0.126,"g":"CCA"},{"x":2,"y":0.078,"g":"CCA"},{"x":5,"y":0.263,"g":"CCA"},
{"x":0,"y":0.92,"g":"Other"},{"x":0,"y":0.91,"g":"Other"},{"x":0,"y":0.895,"g":"Other"},{"x":0,"y":0.88,"g":"Other"},{"x":0,"y":0.81,"g":"Other"},{"x":0,"y":0.79,"g":"Other"},{"x":0,"y":0.77,"g":"Other"},{"x":0,"y":0.76,"g":"Other"},{"x":0,"y":0.73,"g":"Other"},{"x":0,"y":0.7,"g":"Other"},{"x":0,"y":0.67,"g":"Other"},{"x":0,"y":0.65,"g":"Other"},{"x":0,"y":0.64,"g":"Other"},{"x":0,"y":0.6,"g":"Other"},{"x":0,"y":0.58,"g":"Other"},{"x":0,"y":0.55,"g":"Other"},{"x":0,"y":0.52,"g":"Other"},{"x":0,"y":0.5,"g":"Other"},{"x":0,"y":0.48,"g":"Other"},{"x":0,"y":0.46,"g":"Other"},{"x":0,"y":0.44,"g":"Other"},{"x":0,"y":0.41,"g":"Other"},{"x":0,"y":0.39,"g":"Other"},{"x":0,"y":0.38,"g":"Other"},{"x":0,"y":0.35,"g":"Other"},{"x":0,"y":0.33,"g":"Other"},{"x":0,"y":0.3,"g":"Other"},{"x":0,"y":0.28,"g":"Other"},{"x":0,"y":0.25,"g":"Other"},{"x":0,"y":0.23,"g":"Other"},{"x":0,"y":0.22,"g":"Other"},{"x":0,"y":0.21,"g":"Other"},{"x":0,"y":0.2,"g":"Other"},{"x":0,"y":0.19,"g":"Other"},{"x":0,"y":0.18,"g":"Other"},{"x":0,"y":0.17,"g":"Other"},{"x":0,"y":0.16,"g":"Other"},{"x":0,"y":0.15,"g":"Other"},{"x":0,"y":0.14,"g":"Other"},{"x":0,"y":0.13,"g":"Other"},{"x":0,"y":0.12,"g":"Other"},{"x":0,"y":0.11,"g":"Other"},{"x":0,"y":0.1,"g":"Other"},{"x":0,"y":0.09,"g":"Other"},{"x":0,"y":0.08,"g":"Other"},{"x":0,"y":0.07,"g":"Other"},
{"x":2,"y":0.928,"g":"Other"},{"x":2,"y":0.917,"g":"Other"},{"x":2,"y":0.858,"g":"Other"},{"x":2,"y":0.848,"g":"Other"},{"x":2,"y":0.831,"g":"Other"},{"x":2,"y":0.821,"g":"Other"},{"x":2,"y":0.735,"g":"Other"},{"x":2,"y":0.703,"g":"Other"},{"x":2,"y":0.663,"g":"Other"},{"x":2,"y":0.614,"g":"Other"},{"x":2,"y":0.507,"g":"Other"},{"x":2,"y":0.499,"g":"Other"},{"x":2,"y":0.459,"g":"Other"},{"x":2,"y":0.444,"g":"Other"},{"x":2,"y":0.395,"g":"Other"},{"x":2,"y":0.389,"g":"Other"},{"x":2,"y":0.355,"g":"Other"},{"x":2,"y":0.338,"g":"Other"},{"x":2,"y":0.262,"g":"Other"},{"x":2,"y":0.207,"g":"Other"},{"x":2,"y":0.192,"g":"Other"},{"x":2,"y":0.182,"g":"Other"},{"x":2,"y":0.167,"g":"Other"},{"x":2,"y":0.155,"g":"Other"},{"x":2,"y":0.114,"g":"Other"},{"x":2,"y":0.096,"g":"Other"},
{"x":5,"y":0.729,"g":"Other"},{"x":5,"y":0.666,"g":"Other"},{"x":5,"y":0.596,"g":"Other"},{"x":5,"y":0.555,"g":"Other"},{"x":5,"y":0.503,"g":"Other"},{"x":5,"y":0.481,"g":"Other"},{"x":5,"y":0.433,"g":"Other"},{"x":5,"y":0.37,"g":"Other"},{"x":5,"y":0.355,"g":"Other"},{"x":5,"y":0.336,"g":"Other"},{"x":5,"y":0.306,"g":"Other"},{"x":5,"y":0.296,"g":"Other"},{"x":5,"y":0.286,"g":"Other"},{"x":5,"y":0.271,"g":"Other"},{"x":5,"y":0.244,"g":"Other"},{"x":5,"y":0.226,"g":"Other"},{"x":5,"y":0.212,"g":"Other"},{"x":5,"y":0.197,"g":"Other"},{"x":5,"y":0.178,"g":"Other"},{"x":5,"y":0.163,"g":"Other"},{"x":5,"y":0.143,"g":"Other"},{"x":5,"y":0.126,"g":"Other"},{"x":5,"y":0.089,"g":"Other"},{"x":5,"y":0.04,"g":"Other"},
{"x":8,"y":0.632,"g":"Other"},{"x":8,"y":0.491,"g":"Other"},{"x":8,"y":0.466,"g":"Other"},{"x":8,"y":0.151,"g":"Other"},{"x":8,"y":0.111,"g":"Other"},{"x":8,"y":0.081,"g":"Other"},{"x":8,"y":0.064,"g":"Other"},
{"x":10,"y":0.118,"g":"Other"},{"x":10,"y":0.093,"g":"Other"}
],
"p8": [
{"x":57.64,"y":0.397,"g":"GCC"},{"x":64.12,"y":0.375,"g":"GCC"},{"x":71.8,"y":0.496,"g":"GCC"},{"x":81.23,"y":0.363,"g":"GCC"},{"x":82.16,"y":0.43,"g":"GCC"},{"x":92.61,"y":0.479,"g":"GCC"},
{"x":37.1,"y":0.235,"g":"MENA and Pakistan excl. GCC"},{"x":41.73,"y":0.216,"g":"MENA and Pakistan excl. GCC"},{"x":42.56,"y":0.29,"g":"MENA and Pakistan excl. GCC"},{"x":58.38,"y":0.297,"g":"MENA and Pakistan excl. GCC"},{"x":63.84,"y":0.349,"g":"MENA and Pakistan excl. GCC"},{"x":65.23,"y":0.36,"g":"MENA and Pakistan excl. GCC"},{"x":65.5,"y":0.13,"g":"MENA and Pakistan excl. GCC"},{"x":69.39,"y":0.134,"g":"MENA and Pakistan excl. GCC"},{"x":71.33,"y":0.124,"g":"MENA and Pakistan excl. GCC"},{"x":84.01,"y":0.097,"g":"MENA and Pakistan excl. GCC"},{"x":100,"y":0.137,"g":"MENA and Pakistan excl. GCC"},
{"x":48.39,"y":0.127,"g":"CCA"},{"x":52.09,"y":0.341,"g":"CCA"},{"x":54.87,"y":0.264,"g":"CCA"},{"x":57.64,"y":0.264,"g":"CCA"},{"x":59.95,"y":0.264,"g":"CCA"},{"x":82.43,"y":0.083,"g":"CCA"},{"x":83.08,"y":0.312,"g":"CCA"},{"x":100,"y":0.105,"g":"CCA"},
{"x":15.83,"y":0.186,"g":"Other"},{"x":25.08,"y":0.248,"g":"Other"},{"x":31.55,"y":0.174,"g":"Other"},{"x":37.75,"y":0.632,"g":"Other"},{"x":38.21,"y":0.736,"g":"Other"},{"x":38.68,"y":0.922,"g":"Other"},{"x":40.99,"y":0.467,"g":"Other"},{"x":41.45,"y":0.36,"g":"Other"},{"x":42.65,"y":0.703,"g":"Other"},{"x":42.84,"y":0.112,"g":"Other"},{"x":42.84,"y":0.183,"g":"Other"},{"x":43.12,"y":0.459,"g":"Other"},{"x":43.3,"y":0.137,"g":"Other"},{"x":43.3,"y":0.263,"g":"Other"},{"x":43.49,"y":0.331,"g":"Other"},{"x":43.95,"y":0.227,"g":"Other"},{"x":44.5,"y":0.198,"g":"Other"},{"x":44.69,"y":0.851,"g":"Other"},{"x":45.34,"y":0.275,"g":"Other"},{"x":45.43,"y":0.356,"g":"Other"},{"x":47.28,"y":0.213,"g":"Other"},{"x":47.93,"y":0.434,"g":"Other"},{"x":48.85,"y":0.393,"g":"Other"},{"x":49.78,"y":0.152,"g":"Other"},{"x":50.06,"y":0.095,"g":"Other"},{"x":50.06,"y":0.112,"g":"Other"},{"x":50.52,"y":0.208,"g":"Other"},{"x":51.91,"y":0.248,"g":"Other"},{"x":52.09,"y":0.09,"g":"Other"},{"x":52.37,"y":0.648,"g":"Other"},{"x":54.13,"y":0.501,"g":"Other"},{"x":54.87,"y":0.287,"g":"Other"},{"x":55.06,"y":0.12,"g":"Other"},{"x":57.36,"y":0.375,"g":"Other"},{"x":57.46,"y":0.6,"g":"Other"},{"x":58.1,"y":0.482,"g":"Other"},{"x":57.46,"y":0.762,"g":"Other"},{"x":57.18,"y":0.833,"g":"Other"},{"x":58.38,"y":0.174,"g":"Other"},{"x":59.49,"y":0.1,"g":"Other"},{"x":59.95,"y":0.09,"g":"Other"},{"x":60.23,"y":0.467,"g":"Other"},{"x":60.42,"y":0.139,"g":"Other"},{"x":61.06,"y":0.91,"g":"Other"},{"x":61.34,"y":0.378,"g":"Other"},{"x":61.8,"y":0.612,"g":"Other"},{"x":62.27,"y":0.174,"g":"Other"},{"x":62.45,"y":0.44,"g":"Other"},{"x":62.45,"y":0.774,"g":"Other"},{"x":62.64,"y":0.659,"g":"Other"},{"x":62.73,"y":0.393,"g":"Other"},{"x":62.73,"y":0.263,"g":"Other"},{"x":64.12,"y":0.1,"g":"Other"},{"x":64.58,"y":0.213,"g":"Other"},{"x":65.04,"y":0.236,"g":"Other"},{"x":63.38,"y":0.814,"g":"Other"},{"x":64.12,"y":0.814,"g":"Other"},{"x":65.78,"y":0.662,"g":"Other"},{"x":66.15,"y":0.486,"g":"Other"},{"x":66.71,"y":0.928,"g":"Other"},{"x":67.08,"y":0.666,"g":"Other"},{"x":67.63,"y":0.671,"g":"Other"},{"x":67.08,"y":0.219,"g":"Other"},{"x":67.82,"y":0.075,"g":"Other"},{"x":68.28,"y":0.892,"g":"Other"},{"x":68.74,"y":0.198,"g":"Other"},{"x":70.22,"y":0.095,"g":"Other"},{"x":70.87,"y":0.29,"g":"Other"},{"x":71.33,"y":0.393,"g":"Other"},{"x":71.98,"y":0.304,"g":"Other"},{"x":71.98,"y":0.263,"g":"Other"},{"x":72.63,"y":0.09,"g":"Other"},{"x":72.9,"y":0.216,"g":"Other"},{"x":72.9,"y":0.47,"g":"Other"},{"x":73.18,"y":0.662,"g":"Other"},{"x":73.37,"y":0.578,"g":"Other"},{"x":73.37,"y":0.154,"g":"Other"},{"x":73.83,"y":0.109,"g":"Other"},{"x":74.29,"y":0.105,"g":"Other"},{"x":75.03,"y":0.518,"g":"Other"},{"x":76.88,"y":0.124,"g":"Other"},{"x":77.25,"y":0.592,"g":"Other"},{"x":77.81,"y":0.186,"g":"Other"},{"x":78.18,"y":0.18,"g":"Other"},{"x":79.19,"y":0.706,"g":"Other"},{"x":80.77,"y":0.1,"g":"Other"},{"x":80.95,"y":0.216,"g":"Other"},{"x":83.36,"y":0.411,"g":"Other"},{"x":83.36,"y":0.134,"g":"Other"},{"x":83.54,"y":0.688,"g":"Other"},{"x":83.82,"y":0.208,"g":"Other"},{"x":84.28,"y":0.161,"g":"Other"},{"x":84.47,"y":0.349,"g":"Other"},{"x":86.13,"y":0.73,"g":"Other"},{"x":89.56,"y":0.523,"g":"Other"},{"x":89.83,"y":0.792,"g":"Other"},{"x":91.87,"y":0.223,"g":"Other"},{"x":91.87,"y":0.148,"g":"Other"},{"x":93.26,"y":0.644,"g":"Other"},{"x":93.26,"y":0.371,"g":"Other"},{"x":93.26,"y":0.124,"g":"Other"},{"x":94.83,"y":0.264,"g":"Other"},{"x":98.16,"y":0.499,"g":"Other"},{"x":98.34,"y":0.204,"g":"Other"},{"x":100,"y":0.493,"g":"Other"},{"x":100,"y":0.198,"g":"Other"},{"x":100,"y":0.183,"g":"Other"},{"x":100,"y":0.349,"g":"Other"},{"x":100,"y":0.16,"g":"Other"},{"x":100,"y":0.05,"g":"Other"}
],
"p9": [
{"x":0,"y":0.481,"g":"GCC"},{"x":0,"y":0.429,"g":"GCC"},{"x":0,"y":0.392,"g":"GCC"},{"x":0,"y":0.362,"g":"GCC"},{"x":2,"y":0.496,"g":"GCC"},
{"x":0,"y":0.448,"g":"MENA and Pakistan excl. GCC"},{"x":0,"y":0.296,"g":"MENA and Pakistan excl. GCC"},{"x":0,"y":0.229,"g":"MENA and Pakistan excl. GCC"},{"x":0,"y":0.214,"g":"MENA and Pakistan excl. GCC"},{"x":0,"y":0.136,"g":"MENA and Pakistan excl. GCC"},{"x":0,"y":0.096,"g":"MENA and Pakistan excl. GCC"},{"x":1,"y":0.129,"g":"MENA and Pakistan excl. GCC"},{"x":1,"y":0.136,"g":"MENA and Pakistan excl. GCC"},{"x":3,"y":0.126,"g":"MENA and Pakistan excl. GCC"},{"x":10,"y":0.096,"g":"MENA and Pakistan excl. GCC"},
{"x":0,"y":0.345,"g":"CCA"},{"x":0,"y":0.311,"g":"CCA"},{"x":0,"y":0.263,"g":"CCA"},{"x":2,"y":0.126,"g":"CCA"},{"x":2,"y":0.081,"g":"CCA"},{"x":10,"y":0.263,"g":"CCA"},{"x":10,"y":0.104,"g":"CCA"},
{"x":0,"y":0.92,"g":"Other"},{"x":0,"y":0.91,"g":"Other"},{"x":0,"y":0.9,"g":"Other"},{"x":0,"y":0.88,"g":"Other"},{"x":0,"y":0.86,"g":"Other"},{"x":0,"y":0.84,"g":"Other"},{"x":0,"y":0.82,"g":"Other"},{"x":0,"y":0.8,"g":"Other"},{"x":0,"y":0.78,"g":"Other"},{"x":0,"y":0.76,"g":"Other"},{"x":0,"y":0.74,"g":"Other"},{"x":0,"y":0.72,"g":"Other"},{"x":0,"y":0.7,"g":"Other"},{"x":0,"y":0.68,"g":"Other"},{"x":0,"y":0.66,"g":"Other"},{"x":0,"y":0.64,"g":"Other"},{"x":0,"y":0.62,"g":"Other"},{"x":0,"y":0.6,"g":"Other"},{"x":0,"y":0.58,"g":"Other"},{"x":0,"y":0.56,"g":"Other"},{"x":0,"y":0.54,"g":"Other"},{"x":0,"y":0.52,"g":"Other"},{"x":0,"y":0.5,"g":"Other"},{"x":0,"y":0.47,"g":"Other"},{"x":0,"y":0.45,"g":"Other"},{"x":0,"y":0.42,"g":"Other"},{"x":0,"y":0.4,"g":"Other"},{"x":0,"y":0.38,"g":"Other"},{"x":0,"y":0.36,"g":"Other"},{"x":0,"y":0.34,"g":"Other"},{"x":0,"y":0.32,"g":"Other"},{"x":0,"y":0.3,"g":"Other"},{"x":0,"y":0.28,"g":"Other"},{"x":0,"y":0.26,"g":"Other"},{"x":0,"y":0.24,"g":"Other"},{"x":0,"y":0.22,"g":"Other"},{"x":0,"y":0.2,"g":"Other"},{"x":0,"y":0.19,"g":"Other"},{"x":0,"y":0.18,"g":"Other"},{"x":0,"y":0.17,"g":"Other"},{"x":0,"y":0.16,"g":"Other"},{"x":0,"y":0.15,"g":"Other"},{"x":0,"y":0.14,"g":"Other"},{"x":0,"y":0.12,"g":"Other"},{"x":0,"y":0.11,"g":"Other"},{"x":0,"y":0.1,"g":"Other"},{"x":0,"y":0.09,"g":"Other"},{"x":0,"y":0.08,"g":"Other"},{"x":0,"y":0.06,"g":"Other"},{"x":0,"y":0.05,"g":"Other"},
{"x":1,"y":0.67,"g":"Other"},{"x":1,"y":0.661,"g":"Other"},{"x":1,"y":0.599,"g":"Other"},{"x":1,"y":0.496,"g":"Other"},{"x":1,"y":0.441,"g":"Other"},{"x":1,"y":0.389,"g":"Other"},{"x":1,"y":0.377,"g":"Other"},{"x":1,"y":0.345,"g":"Other"},{"x":1,"y":0.263,"g":"Other"},{"x":1,"y":0.222,"g":"Other"},{"x":1,"y":0.212,"g":"Other"},{"x":1,"y":0.197,"g":"Other"},{"x":1,"y":0.185,"g":"Other"},{"x":1,"y":0.17,"g":"Other"},{"x":1,"y":0.155,"g":"Other"},{"x":1,"y":0.126,"g":"Other"},{"x":1,"y":0.111,"g":"Other"},{"x":1,"y":0.096,"g":"Other"},{"x":1,"y":0.084,"g":"Other"},{"x":1,"y":0.049,"g":"Other"},
{"x":2,"y":0.788,"g":"Other"},{"x":2,"y":0.274,"g":"Other"},{"x":2,"y":0.214,"g":"Other"},{"x":2,"y":0.104,"g":"Other"},{"x":2,"y":0.064,"g":"Other"},
{"x":4,"y":0.661,"g":"Other"},{"x":4,"y":0.096,"g":"Other"},{"x":4,"y":0.078,"g":"Other"},
{"x":5,"y":0.175,"g":"Other"},{"x":5,"y":0.138,"g":"Other"},{"x":5,"y":0.114,"g":"Other"},{"x":5,"y":0.099,"g":"Other"},{"x":5,"y":0.089,"g":"Other"},
{"x":6,"y":0.096,"g":"Other"},
{"x":10,"y":0.469,"g":"Other"},{"x":10,"y":0.34,"g":"Other"},{"x":10,"y":0.315,"g":"Other"},{"x":10,"y":0.296,"g":"Other"},{"x":10,"y":0.277,"g":"Other"},{"x":10,"y":0.247,"g":"Other"},{"x":10,"y":0.226,"g":"Other"},{"x":10,"y":0.212,"g":"Other"},{"x":10,"y":0.197,"g":"Other"},{"x":10,"y":0.185,"g":"Other"},{"x":10,"y":0.173,"g":"Other"},{"x":10,"y":0.104,"g":"Other"},{"x":10,"y":0.078,"g":"Other"},{"x":10,"y":0.067,"g":"Other"},{"x":10,"y":0.052,"g":"Other"}
]
},
"columns": 3,
"spacing": {"row": 113, "column": 86},
"bounds": "flush",
"resolve": {"legend": {"color": "independent"}},
"concat": [
{"width": 326, "height": 226, "data": {"name": "p1"},
 "encoding": {
  "x": {"field": "x", "type": "quantitative", "scale": {"domain": [20, 30], "nice": false, "zero": false}, "axis": {"values": [20, 22, 24, 26, 28, 30], "title": "Log GDP"}},
  "y": {"field": "y", "type": "quantitative", "scale": {"domain": [0, 1], "nice": false}, "axis": {"values": [0, 0.2, 0.4, 0.6, 0.8, 1], "format": "~g", "title": "Financial development"}},
  "color": {"field": "g", "type": "nominal", "scale": {"domain": ["GCC", "MENA and Pakistan excl. GCC", "CCA", "Other"], "range": ["#d7373c", "#2d4b8a", "#ffc72c", "#c4c4c4"]}, "legend": {"title": null, "orient": "none", "legendX": 21, "legendY": -25, "direction": "horizontal"}}
 },
 "layer": [
  {"transform": [{"filter": "datum.g != 'Other'"}], "mark": {"type": "circle", "size": 60, "opacity": 1}},
  {"transform": [{"filter": "datum.g == 'Other'"}], "mark": {"type": "circle", "size": 22, "opacity": 1}}
 ]},
{"width": 326, "height": 226, "data": {"name": "p2"},
 "encoding": {
  "x": {"field": "x", "type": "quantitative", "scale": {"domain": [5, 15], "nice": false, "zero": false}, "axis": {"values": [5, 7, 9, 11, 13, 15], "title": "Log GDP per capita"}},
  "y": {"field": "y", "type": "quantitative", "scale": {"domain": [0, 1], "nice": false}, "axis": {"values": [0, 0.2, 0.4, 0.6, 0.8, 1], "format": "~g", "title": "Financial development"}},
  "color": {"field": "g", "type": "nominal", "scale": {"domain": ["GCC", "MENA and Pakistan excl. GCC", "CCA", "Other"], "range": ["#d7373c", "#2d4b8a", "#ffc72c", "#c4c4c4"]}, "legend": {"title": null, "orient": "none", "legendX": 21, "legendY": -25, "direction": "horizontal"}}
 },
 "layer": [
  {"transform": [{"filter": "datum.g != 'Other'"}], "mark": {"type": "circle", "size": 60, "opacity": 1}},
  {"transform": [{"filter": "datum.g == 'Other'"}], "mark": {"type": "circle", "size": 22, "opacity": 1}}
 ]},
{"width": 326, "height": 226, "data": {"name": "p3"},
 "encoding": {
  "x": {"field": "x", "type": "quantitative", "scale": {"domain": [-2, 2], "nice": false, "zero": false}, "axis": {"values": [-2, -1, 0, 1, 2], "title": "WGI Rule of law score"}},
  "y": {"field": "y", "type": "quantitative", "scale": {"domain": [0, 1], "nice": false}, "axis": {"values": [0, 0.2, 0.4, 0.6, 0.8, 1], "format": "~g", "title": "Financial development", "offset": -163, "titleX": -167}},
  "color": {"field": "g", "type": "nominal", "scale": {"domain": ["GCC", "MENA and Pakistan excl. GCC", "CCA", "Other"], "range": ["#d7373c", "#2d4b8a", "#ffc72c", "#c4c4c4"]}, "legend": {"title": null, "orient": "none", "legendX": 21, "legendY": -25, "direction": "horizontal"}}
 },
 "layer": [
  {"transform": [{"filter": "datum.g != 'Other'"}], "mark": {"type": "circle", "size": 60, "opacity": 1}},
  {"transform": [{"filter": "datum.g == 'Other'"}], "mark": {"type": "circle", "size": 22, "opacity": 1}}
 ]},
{"width": 326, "height": 226, "data": {"name": "p4"},
 "encoding": {
  "x": {"field": "x", "type": "quantitative", "scale": {"domain": [-5, 20], "nice": false, "zero": false}, "axis": {"values": [-5, 0, 5, 10, 15, 20], "title": "Inflation (5 year average)"}},
  "y": {"field": "y", "type": "quantitative", "scale": {"domain": [0, 1], "nice": false}, "axis": {"values": [0, 0.2, 0.4, 0.6, 0.8, 1], "format": "~g", "title": "Financial development", "offset": -65, "titleX": -69}},
  "color": {"field": "g", "type": "nominal", "scale": {"domain": ["GCC", "MENA and Pakistan excl. GCC", "CCA", "Other"], "range": ["#d7373c", "#2d4b8a", "#ffc72c", "#c4c4c4"]}, "legend": {"title": null, "orient": "none", "legendX": 21, "legendY": -25, "direction": "horizontal"}}
 },
 "layer": [
  {"transform": [{"filter": "datum.g != 'Other'"}], "mark": {"type": "circle", "size": 60, "opacity": 1}},
  {"transform": [{"filter": "datum.g == 'Other'"}], "mark": {"type": "circle", "size": 22, "opacity": 1}}
 ]},
{"width": 326, "height": 226, "data": {"name": "p5"},
 "encoding": {
  "x": {"field": "x", "type": "quantitative", "scale": {"domain": [0, 0.5], "nice": false, "zero": false}, "axis": {"values": [0, 0.1, 0.2, 0.3, 0.4, 0.5], "format": "~g", "title": "Share of credit held by public sector"}},
  "y": {"field": "y", "type": "quantitative", "scale": {"domain": [0, 1], "nice": false}, "axis": {"values": [0, 0.2, 0.4, 0.6, 0.8, 1], "format": "~g", "title": "Financial development"}},
  "color": {"field": "g", "type": "nominal", "scale": {"domain": ["GCC", "MENA and Pakistan excl. GCC", "CCA", "Other"], "range": ["#d7373c", "#2d4b8a", "#ffc72c", "#c4c4c4"]}, "legend": {"title": null, "orient": "none", "legendX": 21, "legendY": -25, "direction": "horizontal"}}
 },
 "layer": [
  {"transform": [{"filter": "datum.g != 'Other'"}], "mark": {"type": "circle", "size": 60, "opacity": 1}},
  {"transform": [{"filter": "datum.g == 'Other'"}], "mark": {"type": "circle", "size": 22, "opacity": 1}}
 ]},
{"width": 326, "height": 226, "data": {"name": "p6"},
 "encoding": {
  "x": {"field": "x", "type": "quantitative", "scale": {"domain": [0, 40], "nice": false, "zero": false}, "axis": {"values": [0, 10, 20, 30, 40], "title": "Share of GDP attributable to natural resource rents"}},
  "y": {"field": "y", "type": "quantitative", "scale": {"domain": [0, 1], "nice": false}, "axis": {"values": [0, 0.2, 0.4, 0.6, 0.8, 1], "format": "~g", "title": "Financial development"}},
  "color": {"field": "g", "type": "nominal", "scale": {"domain": ["GCC", "MENA and Pakistan excl. GCC", "CCA", "Other"], "range": ["#d7373c", "#2d4b8a", "#ffc72c", "#c4c4c4"]}, "legend": {"title": null, "orient": "none", "legendX": 21, "legendY": -25, "direction": "horizontal"}}
 },
 "layer": [
  {"transform": [{"filter": "datum.g != 'Other'"}], "mark": {"type": "circle", "size": 60, "opacity": 1}},
  {"transform": [{"filter": "datum.g == 'Other'"}], "mark": {"type": "circle", "size": 22, "opacity": 1}}
 ]},
{"width": 326, "height": 226, "data": {"name": "p7"},
 "encoding": {
  "x": {"field": "x", "type": "quantitative", "scale": {"domain": [0, 10], "nice": false, "zero": false}, "axis": {"values": [0, 2, 4, 6, 8, 10], "title": ["Fraser State owned banking index", "(0 = no SOBs)"], "titleY": 14}},
  "y": {"field": "y", "type": "quantitative", "scale": {"domain": [0, 1], "nice": false}, "axis": {"values": [0, 0.2, 0.4, 0.6, 0.8, 1], "format": "~g", "title": "Financial development"}},
  "color": {"field": "g", "type": "nominal", "scale": {"domain": ["GCC", "MENA and Pakistan excl. GCC", "CCA", "Other"], "range": ["#d7373c", "#2d4b8a", "#ffc72c", "#c4c4c4"]}, "legend": {"title": null, "orient": "none", "legendX": 21, "legendY": -25, "direction": "horizontal"}}
 },
 "layer": [
  {"transform": [{"filter": "datum.g != 'Other'"}], "mark": {"type": "circle", "size": 60, "opacity": 1}},
  {"transform": [{"filter": "datum.g == 'Other'"}], "mark": {"type": "circle", "size": 22, "opacity": 1}}
 ]},
{"width": 326, "height": 226, "data": {"name": "p8"},
 "encoding": {
  "x": {"field": "x", "type": "quantitative", "scale": {"domain": [10, 100], "nice": false, "zero": false}, "axis": {"values": [10, 30, 50, 70, 90], "title": "Concentration of Banking System"}},
  "y": {"field": "y", "type": "quantitative", "scale": {"domain": [0, 1], "nice": false}, "axis": {"values": [0, 0.2, 0.4, 0.6, 0.8, 1], "format": "~g", "title": "Financial development"}},
  "color": {"field": "g", "type": "nominal", "scale": {"domain": ["GCC", "MENA and Pakistan excl. GCC", "CCA", "Other"], "range": ["#d7373c", "#2d4b8a", "#ffc72c", "#c4c4c4"]}, "legend": {"title": null, "orient": "none", "legendX": 21, "legendY": -25, "direction": "horizontal"}}
 },
 "layer": [
  {"transform": [{"filter": "datum.g != 'Other'"}], "mark": {"type": "circle", "size": 60, "opacity": 1}},
  {"transform": [{"filter": "datum.g == 'Other'"}], "mark": {"type": "circle", "size": 22, "opacity": 1}}
 ]},
{"width": 326, "height": 226, "data": {"name": "p9"},
 "encoding": {
  "x": {"field": "x", "type": "quantitative", "scale": {"domain": [0, 10], "nice": false, "zero": false}, "axis": {"values": [0, 2, 4, 6, 8, 10], "title": ["Fraser Credit controls index", "(0 = no controls)"], "titleY": 14}},
  "y": {"field": "y", "type": "quantitative", "scale": {"domain": [0, 1], "nice": false}, "axis": {"values": [0, 0.2, 0.4, 0.6, 0.8, 1], "format": "~g", "title": "Financial development"}},
  "color": {"field": "g", "type": "nominal", "scale": {"domain": ["GCC", "MENA and Pakistan excl. GCC", "CCA", "Other"], "range": ["#d7373c", "#2d4b8a", "#ffc72c", "#c4c4c4"]}, "legend": {"title": null, "orient": "none", "legendX": 21, "legendY": -25, "direction": "horizontal"}}
 },
 "layer": [
  {"transform": [{"filter": "datum.g != 'Other'"}], "mark": {"type": "circle", "size": 60, "opacity": 1}},
  {"transform": [{"filter": "datum.g == 'Other'"}], "mark": {"type": "circle", "size": 22, "opacity": 1}}
 ]}
],
"config": {
  "view": {"stroke": null},
  "font": "Liberation Sans",
  "axis": {"grid": false, "labelFont": "Liberation Sans", "labelFontSize": 10, "labelColor": "#1a1a1a", "titleFont": "Liberation Sans", "titleFontSize": 10, "titleFontWeight": "normal", "titleColor": "#1a1a1a", "domainColor": "#6f6f6f", "domainWidth": 1.5, "tickColor": "#6f6f6f", "tickSize": 4, "labelPadding": 3, "labelFlush": false, "labelOverlap": false, "titleLineHeight": 12},
  "axisX": {"titleBaseline": "top", "titleY": 21},
  "axisY": {"titleX": -27},
  "legend": {"labelFont": "Liberation Sans", "labelFontSize": 10, "labelColor": "#1a1a1a", "symbolType": "circle", "symbolSize": 22, "symbolStrokeWidth": 0, "columnPadding": 7.5, "labelOffset": 0, "padding": 0, "symbolOpacity": 1}
}
}
